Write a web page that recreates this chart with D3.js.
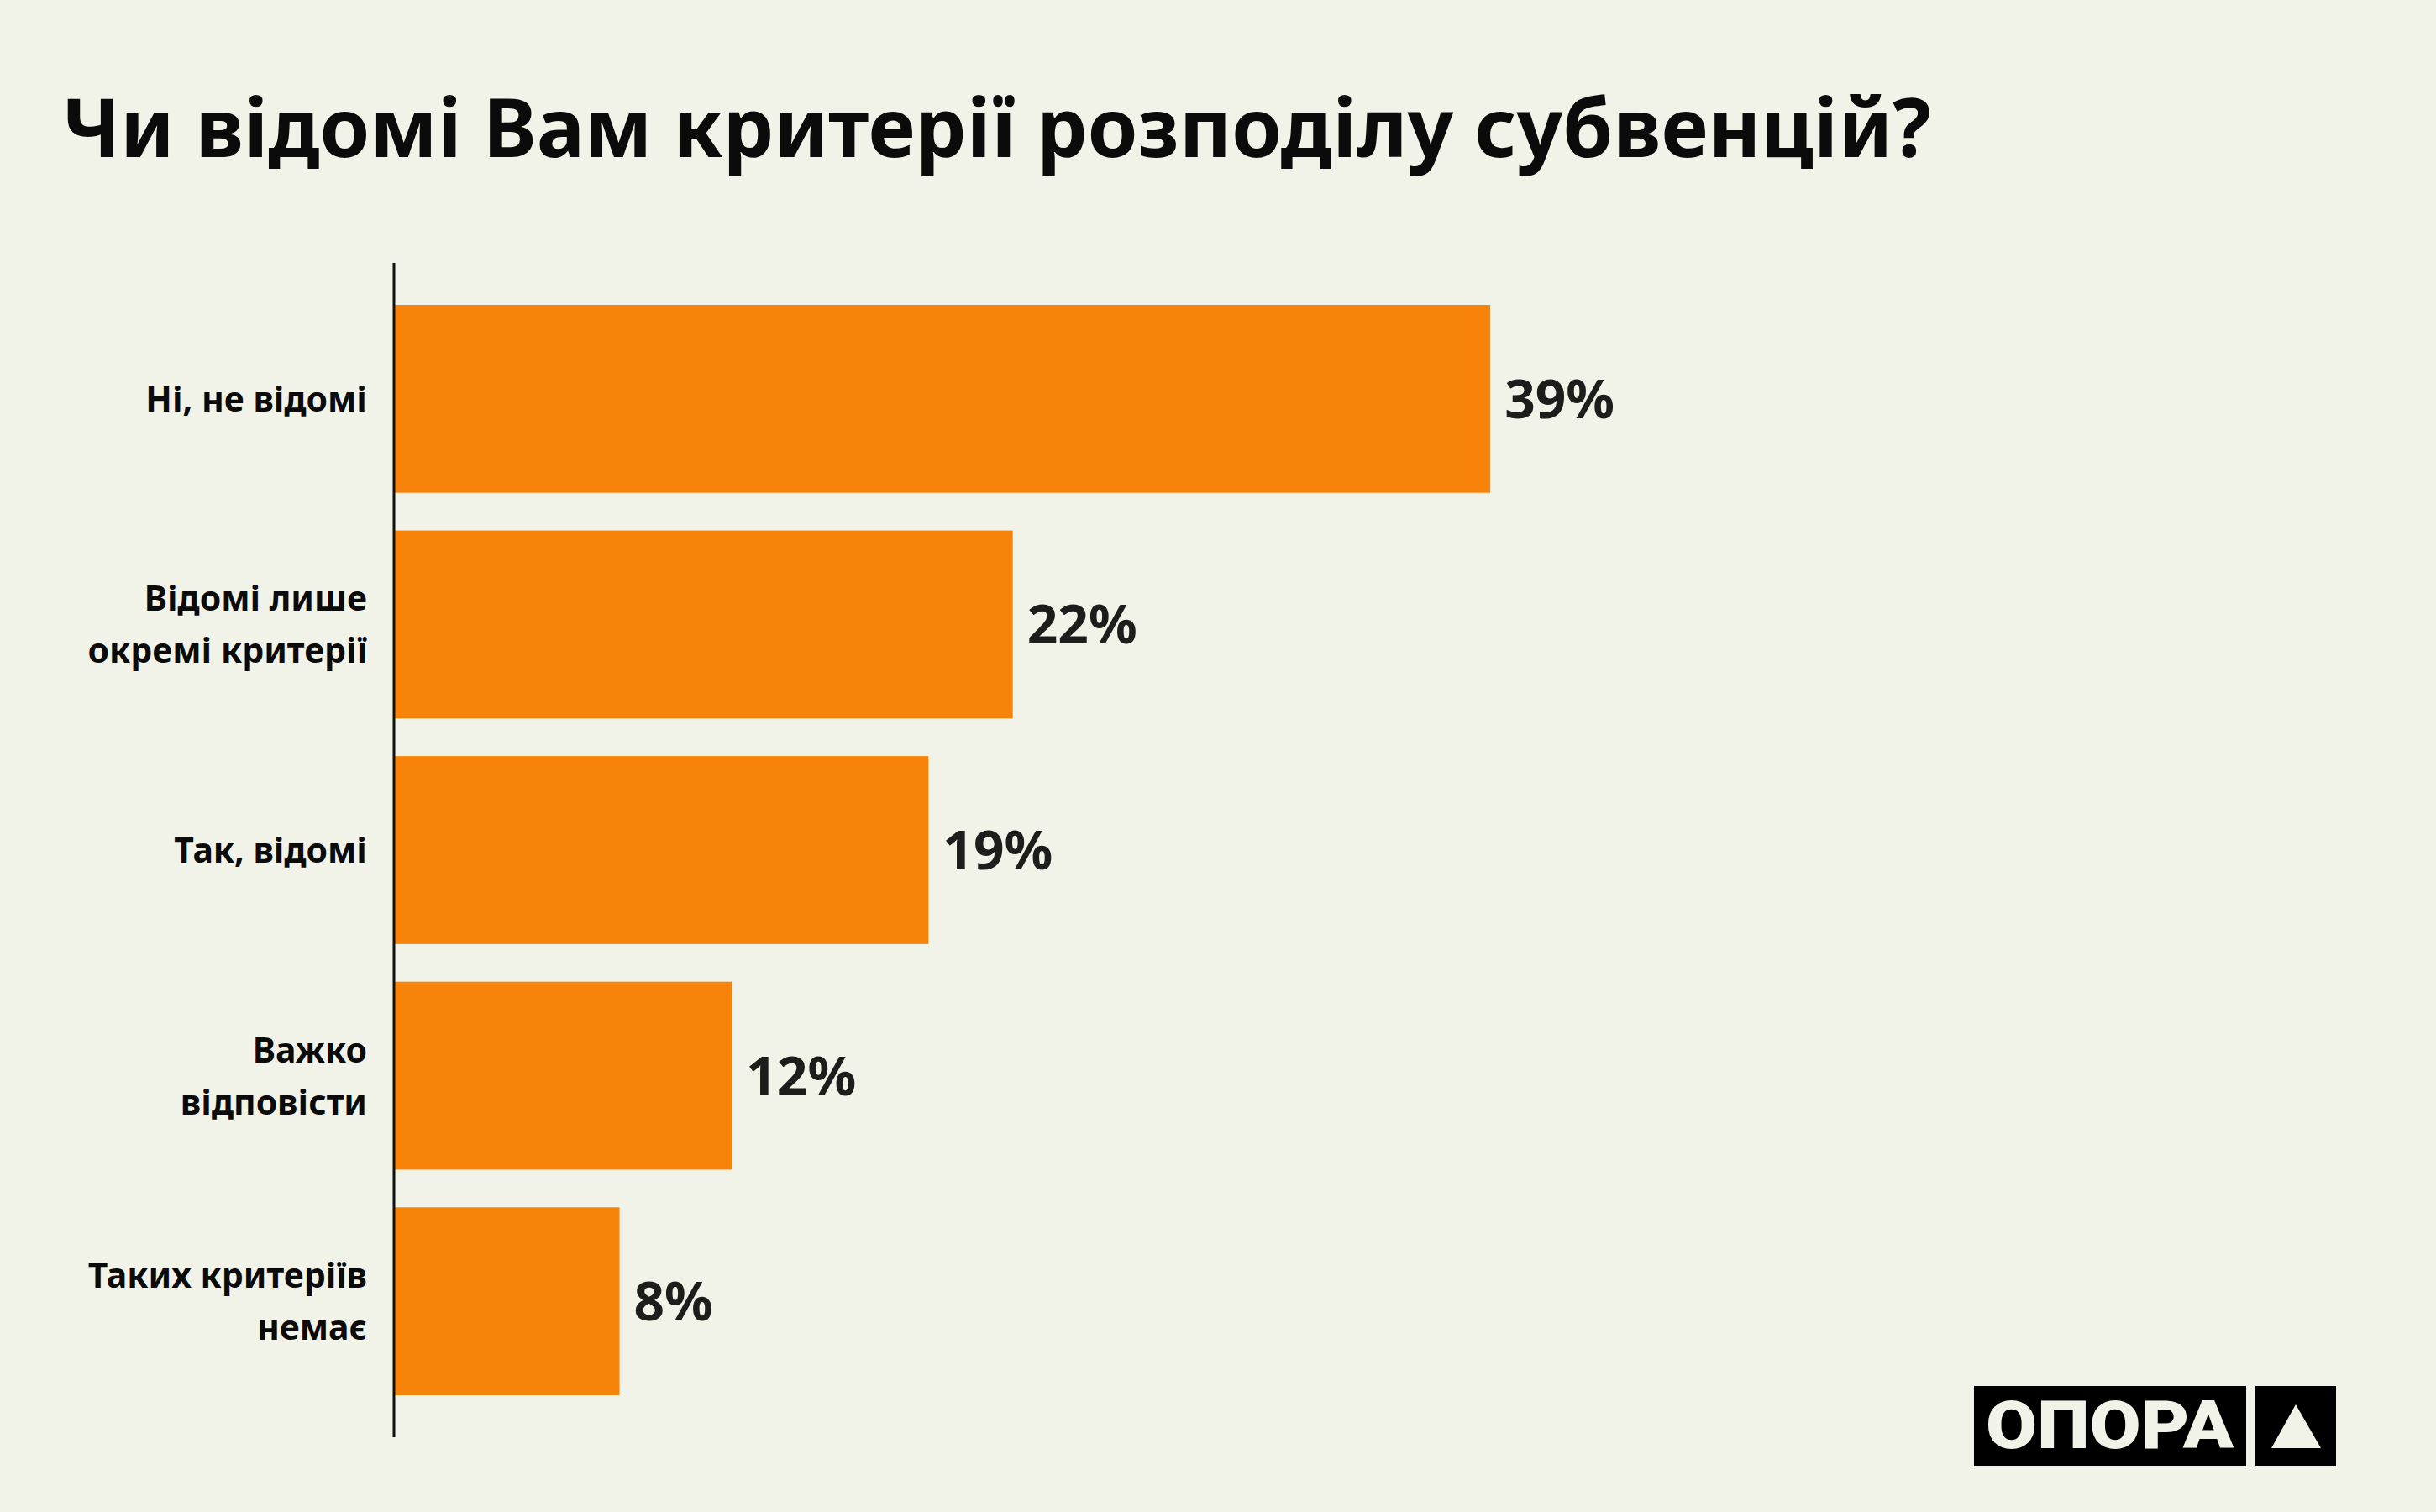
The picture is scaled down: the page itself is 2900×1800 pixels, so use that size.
<!DOCTYPE html>
<html>
<head>
<meta charset="utf-8">
<script src="https://cdn.jsdelivr.net/npm/d3@7"></script>
<style>
body{margin:0;background:#f2f3e8;}
svg{display:block;}
</style>
</head>
<body>
<svg></svg>
<script>
var title = "Чи відомі Вам критерії розподілу субвенцій?";
var categories = ["Ні, не відомі", "Відомі лише окремі критерії", "Так, відомі", "Важко відповісти", "Таких критеріїв немає"];
var labelLines = [["Ні, не відомі"], ["Відомі лише", "окремі критерії"], ["Так, відомі"], ["Важко", "відповісти"], ["Таких критеріїв", "немає"]];
var values = [39, 22, 19, 12, 8];

var width = 2900;
var height = 1800;

var svg = d3.select("svg")
  .attr("width", width)
  .attr("height", height)
  .style("font-family", "'Noto Sans', sans-serif");

svg.append("rect")
  .attr("width", width)
  .attr("height", height)
  .attr("fill", "#f2f3e8");

svg.append("text")
  .text(title)
  .attr("x", 74)
  .attr("y", 187)
  .attr("font-size", 96)
  .attr("font-weight", 700)
  .attr("fill", "#0b0b0b");

var x = d3.scaleLinear()
  .domain([0, 100])
  .range([470, 3814]);

var y = d3.scaleBand()
  .domain(categories)
  .range([363, 1661])
  .paddingInner(0.167)
  .paddingOuter(0);

svg.selectAll("rect.bar")
  .data(values)
  .enter()
  .append("rect")
  .attr("class", "bar")
  .attr("x", x(0))
  .attr("y", function(d, i) {return y(categories[i]);})
  .attr("width", function(d) {return x(d) - x(0);})
  .attr("height", y.bandwidth())
  .attr("fill", "#f8830a");

// axis line
svg.append("line")
  .attr("x1", 469)
  .attr("x2", 469)
  .attr("y1", 313)
  .attr("y2", 1711)
  .attr("stroke", "#111")
  .attr("stroke-width", 3);

svg.selectAll("text.value")
  .data(values)
  .enter()
  .append("text")
  .attr("class", "value")
  .text(function(d) {return d + "%";})
  .attr("x", function(d) {return x(d) + 17;})
  .attr("y", function(d, i) {return y(categories[i]) + y.bandwidth() / 2 + 23;})
  .attr("font-size", 64)
  .attr("font-weight", 700)
  .attr("fill", "#1d1d1b");

var lab = svg.selectAll("text.cat")
  .data(labelLines)
  .enter()
  .append("text")
  .attr("class", "cat")
  .attr("text-anchor", "end")
  .attr("font-size", 41)
  .attr("font-weight", 700)
  .attr("fill", "#0b0b0b");

lab.each(function(lines, i) {
  var cy = y(categories[i]) + y.bandwidth() / 2;
  var first = cy + 15 - (lines.length - 1) * 62 / 2;
  d3.select(this).selectAll("tspan")
    .data(lines)
    .enter()
    .append("tspan")
    .attr("x", 437)
    .attr("y", function(d, j) {return first + j * 62;})
    .text(function(d) {return d;});
});

// logo
var logo = svg.append("g");
logo.append("rect")
  .attr("x", 2350).attr("y", 1650)
  .attr("width", 324).attr("height", 95)
  .attr("fill", "#000");
logo.append("rect")
  .attr("x", 2685).attr("y", 1650)
  .attr("width", 96).attr("height", 95)
  .attr("fill", "#000");
logo.append("text")
  .text("ОПОРА")
  .attr("x", 2364)
  .attr("y", 1724)
  .attr("font-size", 79)
  .attr("font-weight", 900)
  .attr("font-family", "Roboto, sans-serif")
  .attr("textLength", 295)
  .attr("lengthAdjust", "spacingAndGlyphs")
  .attr("fill", "#f2f3e8");
logo.append("path")
  .attr("d", "M2733,1672L2763,1724L2704,1724Z")
  .attr("fill", "#f2f3e8");
</script>
</body>
</html>
